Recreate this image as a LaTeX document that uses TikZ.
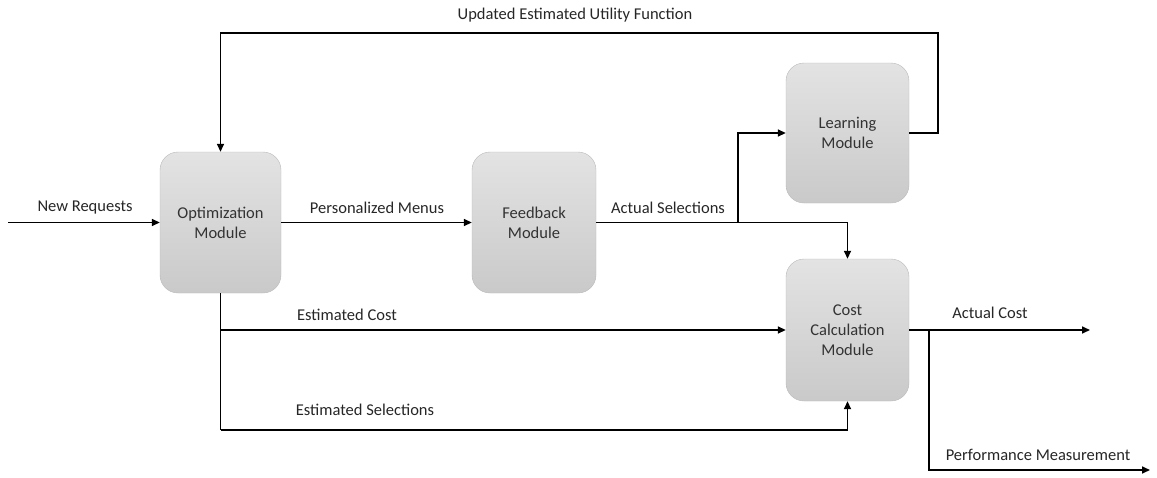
\documentclass[tikz,border=0pt]{standalone}
\usepackage{fontspec}
\setmainfont{Carlito}
\usetikzlibrary{arrows.meta,calc}
\begin{document}
\begin{tikzpicture}[x=1pt,y=-1pt,
  module/.style={draw=gray!55, top color=gray!22, bottom color=gray!42, rounded corners=18pt,
    minimum width=121pt, minimum height=141pt, align=center, inner sep=0pt, text=black!80,
    font=\fontsize{16.5}{20}\selectfont},
  conn/.style={line width=1.6pt, -{Triangle[length=8pt,width=7pt]}},
  wire/.style={line width=1.6pt},
  lbl/.style={font=\fontsize{16.5}{20}\selectfont, text=black!85, inner sep=0pt}]
\useasboundingbox (0,0) rectangle (1157,477);
\node[module] (opt) at (220.5,222.5) {Optimization\\Module};
\node[module, minimum width=124pt] (fb) at (534,222.5) {Feedback\\Module};
\node[module, minimum width=123pt, minimum height=140pt] (learn) at (847.5,133) {Learning\\Module};
\node[module, minimum width=123pt, minimum height=142pt] (cost) at (847.5,330) {Cost\\Calculation\\Module};
\coordinate (in) at (8,222.5);
\coordinate (split) at (738,222.5);
\coordinate (ret) at (938,33);
\coordinate (ob) at (220.5,330);
\coordinate (obb) at (220.5,430);
\coordinate (cs) at (929,330);
\coordinate (acEnd) at (1090,330);
\coordinate (pmEnd) at (1150,470);
% arrows
\draw[conn] (in) -- (opt.west);
\draw[conn] (opt.east) -- (fb.west);
\draw[conn] (fb.east) -- (split-|cost.north) -- (cost.north);
\draw[conn] (split) |- (learn.west);
\draw[conn] (learn.east) -| (ret) -| (opt.north);
\draw[wire] (opt.south) -- (obb);
\draw[conn] (ob) -- (cost.west);
\draw[conn] (obb) -| (cost.south);
\draw[conn] (cost.east |- cs) -- (acEnd);
\draw[conn] (cs) |- (pmEnd);
% labels
\node[lbl] (l1) at (85,208) {New Requests};
\node[lbl] (l2) at (377,208) {Personalized Menus};
\node[lbl] (l3) at (668,208) {Actual Selections};
\node[lbl] (l4) at (575,15) {Updated Estimated Utility Function};
\node[lbl] (l5) at (347,315) {Estimated Cost};
\node[lbl] (l6) at (365,410) {Estimated Selections};
\node[lbl] (l7) at (990,313) {Actual Cost};
\node[lbl] (l8) at (1038,455) {Performance Measurement};
\end{tikzpicture}
\end{document}
